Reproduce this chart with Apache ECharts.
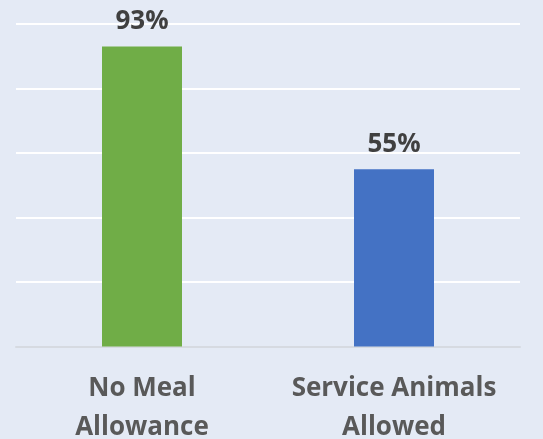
<!DOCTYPE html>
<html>
<head>
<meta charset="utf-8">
<script src="https://cdn.jsdelivr.net/npm/echarts@6/dist/echarts.min.js"></script>
<style>
html,body{margin:0;padding:0;background:#E4EAF5;}
#c{width:543px;height:439px;}
</style>
</head>
<body>
<div id="c"></div>
<script>
const categories = ['No Meal\nAllowance', 'Service Animals\nAllowed'];
const values = [93, 55];
const colors = ['#70AD47', '#4472C4'];

const chart = echarts.init(document.getElementById('c'));
chart.setOption({
  backgroundColor: '#E4EAF5',
  animation: false,
  grid: { left: 16, right: 23, top: 24, bottom: 92.5, containLabel: false, outerBoundsMode: 'none' },
  xAxis: {
    type: 'category',
    data: categories,
    axisLine: { lineStyle: { color: '#D6DAE1', width: 2 } },
    axisTick: { show: false },
    axisLabel: {
      interval: 0,
      color: '#595959',
      fontFamily: 'Open Sans',
      fontWeight: 'bold',
      fontSize: 26,
      lineHeight: 39,
      margin: 23
    }
  },
  yAxis: {
    type: 'value',
    min: 0,
    max: 100,
    interval: 20,
    axisLabel: { show: false },
    axisLine: { show: false },
    axisTick: { show: false },
    splitLine: { lineStyle: { color: '#FFFFFF', width: 2 } }
  },
  series: [{
    type: 'bar',
    barWidth: 80,
    data: values.map((v, i) => ({ value: v, itemStyle: { color: colors[i] } })),
    label: {
      show: true,
      position: 'top',
      distance: 12,
      formatter: '{c}%',
      color: '#404040',
      fontFamily: 'Open Sans',
      fontWeight: 'bold',
      fontSize: 26
    }
  }]
});
</script>
</body>
</html>
